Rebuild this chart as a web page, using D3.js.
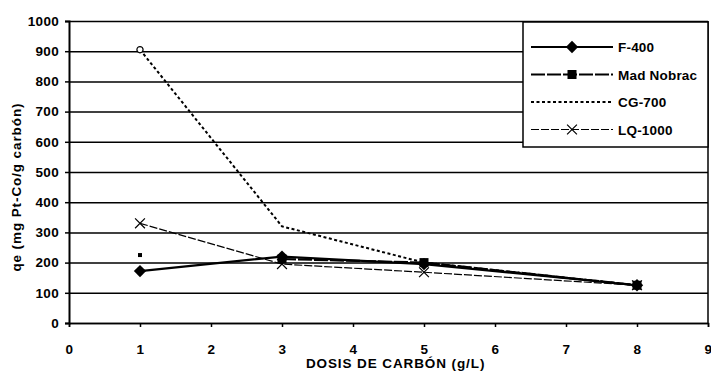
<!DOCTYPE html>
<html>
<head>
<meta charset="utf-8">
<script src="https://cdn.jsdelivr.net/npm/d3@7"></script>
<style>
  html, body { margin: 0; padding: 0; background: #fff; }
  svg text { font-family: "Liberation Sans", Arial, sans-serif; font-weight: bold; fill: #000; }
</style>
</head>
<body>
<svg id="chart" width="711" height="378"></svg>
<script>
// Data
const doses = [1, 3, 5, 8];
const f400 = [172, 220, 195, 125];
const madNobrac = [225, 212, 200, 125];   // x=1 point stands alone in the scan (no segment to x=3)
const cg700 = [905, 320, 200, 125];
const lq1000 = [330, 195, 168, 125];
const seriesNames = ["F-400", "Mad Nobrac", "CG-700", "LQ-1000"];
const xTicks = [0, 1, 2, 3, 4, 5, 6, 7, 8, 9];
const yTicks = [0, 100, 200, 300, 400, 500, 600, 700, 800, 900, 1000];

const M = { left: 69, right: 3, top: 21, bottom: 55 };
const W = 711, H = 378;
const IW = W - M.left - M.right, IH = H - M.top - M.bottom;

const svg = d3.select("#chart");
const g = svg.append("g").attr("transform", `translate(${M.left},${M.top})`);

const x = d3.scaleLinear().domain([0, 9]).range([0, IW]);
const y = d3.scaleLinear().domain([0, 1000]).range([IH, 0]);

const tickText = ax => ax.selectAll("text")
  .attr("font-size", "13.5px").style("letter-spacing", "0.3px")
  .style("font-family", "Liberation Sans, Arial").style("font-weight", "bold");

// gridlines
g.append("g")
  .call(d3.axisLeft(y).tickValues(yTicks).tickSize(-IW).tickFormat(""))
  .call(ax => ax.select(".domain").remove())
  .call(ax => ax.selectAll(".tick line").attr("stroke", "#000").attr("stroke-width", 1.5));

// frame (right side)
g.append("line").attr("x1", IW).attr("x2", IW).attr("y1", 0).attr("y2", IH)
  .attr("stroke", "#000").attr("stroke-width", 1.5);

// y axis
g.append("g")
  .call(d3.axisLeft(y).tickValues(yTicks).tickSize(4).tickPadding(6).tickFormat(d3.format("d")))
  .call(ax => ax.select(".domain").attr("stroke-width", 2))
  .call(ax => ax.selectAll(".tick line").attr("stroke-width", 1.5))
  .call(tickText);

// x axis
g.append("g").attr("transform", `translate(0,${IH})`)
  .call(d3.axisBottom(x).tickValues(xTicks).tickSize(4).tickPadding(17).tickFormat(d3.format("d")))
  .call(ax => ax.select(".domain").attr("stroke-width", 1.5))
  .call(ax => ax.selectAll(".tick line").attr("stroke-width", 1.5))
  .call(tickText);

// axis titles
svg.append("text").attr("x", M.left + x(4.6)).attr("y", 368)
  .attr("text-anchor", "middle").attr("font-size", "13.5px").style("letter-spacing", "0.9px")
  .text("DOSIS DE CARBÓN (g/L)");
svg.append("text").attr("transform", `translate(21,${M.top + y(450)}) rotate(-90)`)
  .attr("text-anchor", "middle").attr("font-size", "13.5px").style("letter-spacing", "0.9px")
  .text("qe (mg Pt-Co/g carbón)");

const line = d3.line().x(d => x(d[0])).y(d => y(d[1]));
const pts = vals => doses.map((d, i) => [d, vals[i]]);

const styles = [
  { vals: f400, width: 2.2, dash: null, marker: "diamond" },
  { vals: madNobrac, width: 2.2, dash: "14,2", marker: "square", from: 1 },
  { vals: cg700, width: 2, dash: "3,2.5", marker: null },
  { vals: lq1000, width: 1.2, dash: "8,2", marker: "cross" },
];

function drawMarker(sel, type, cx, cy, s) {
  if (type === "diamond") {
    sel.append("path").attr("d", d3.symbol(d3.symbolDiamond2, s * s * 1.2)())
      .attr("transform", `translate(${cx},${cy})`).attr("fill", "#000");
  } else if (type === "square") {
    sel.append("rect").attr("x", cx - s / 2).attr("y", cy - s / 2)
      .attr("width", s).attr("height", s).attr("fill", "#000");
  } else if (type === "cross") {
    sel.append("path").attr("d", d3.symbol(d3.symbolX, s * s * 0.8)())
      .attr("transform", `translate(${cx},${cy})`).attr("stroke", "#000").attr("stroke-width", 1.2).attr("fill", "none");
  }
}

styles.forEach(s => {
  const p = pts(s.vals).slice(s.from || 0);
  g.append("path").datum(p).attr("d", line)
    .attr("fill", "none").attr("stroke", "#000").attr("stroke-width", s.width)
    .attr("stroke-dasharray", s.dash);
});

// markers
styles.forEach(s => {
  pts(s.vals).forEach(([dx, dy], i) => {
    if (s.marker === "square" && i === 0) {
      drawMarker(g, "square", x(dx), y(dy), 4);
    } else if (s.marker) {
      drawMarker(g, s.marker, x(dx), y(dy), s.marker === "square" ? 9 : 9);
    }
  });
});
// CG-700 open marker at first point
g.append("path").attr("d", d3.symbol(d3.symbolCircle, 30)())
  .attr("transform", `translate(${x(doses[0])},${y(cg700[0])})`)
  .attr("fill", "#fff").attr("stroke", "#000").attr("stroke-width", 1.2);

// legend
const leg = svg.append("g").attr("transform", "translate(523,22)");
leg.append("rect").attr("x", 0).attr("y", 0).attr("width", 185).attr("height", 125)
  .attr("fill", "#fff").attr("stroke", "#000").attr("stroke-width", 1.5);
seriesNames.forEach((name, i) => {
  const s = styles[i];
  const ly = 25 + i * 27.5;
  leg.append("line").attr("x1", 8).attr("x2", 90).attr("y1", ly).attr("y2", ly)
    .attr("stroke", "#000").attr("stroke-width", s.width).attr("stroke-dasharray", s.dash);
  if (s.marker) drawMarker(leg, s.marker, 49, ly, 9);
  leg.append("text").attr("x", 95).attr("y", ly + 5).attr("font-size", "13.5px")
    .style("letter-spacing", "0.2px").text(name);
});
</script>
</body>
</html>
